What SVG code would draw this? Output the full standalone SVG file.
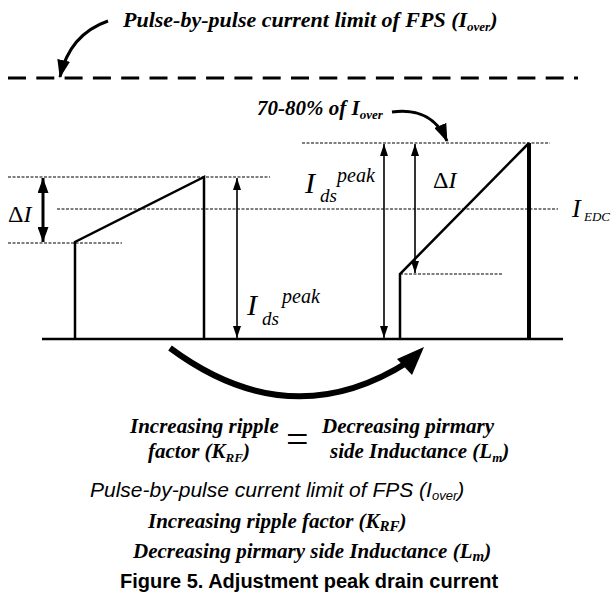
<svg xmlns="http://www.w3.org/2000/svg" width="614" height="600" viewBox="0 0 614 600">
<style>
.tbi{font-family:"Liberation Serif","Times New Roman",serif;font-weight:bold;font-style:italic;fill:#000}
.ti{font-family:"Liberation Serif","Times New Roman",serif;font-style:italic;fill:#000}
.tr{font-family:"Liberation Serif","Times New Roman",serif;fill:#000}
.ai{font-family:"Liberation Sans",Arial,sans-serif;font-style:italic;fill:#000}
.ab{font-family:"Liberation Sans",Arial,sans-serif;font-weight:bold;fill:#000}
.dash{stroke:#000;stroke-width:1.2;stroke-dasharray:3 1.5;fill:none}
.wave{stroke:#000;stroke-width:2.5;fill:none;stroke-linejoin:miter}
.thin{stroke:#000;stroke-width:1.6;fill:none}
.bold{stroke:#000;stroke-width:3;fill:none}
</style>
<defs>
<marker id="ah" markerUnits="userSpaceOnUse" markerWidth="12" markerHeight="8" refX="12" refY="4" orient="auto-start-reverse"><path d="M0,0 L12,4 L0,8 z" fill="#000"/></marker>
<marker id="ahb" markerUnits="userSpaceOnUse" markerWidth="15" markerHeight="11" refX="15" refY="5.5" orient="auto-start-reverse"><path d="M0,0 L15,5.5 L0,11 z" fill="#000"/></marker>
<marker id="ahc" markerUnits="userSpaceOnUse" markerWidth="18" markerHeight="13" refX="17" refY="6.5" orient="auto"><path d="M0,0 L18,6.5 L0,13 z" fill="#000"/></marker>
</defs>
<rect width="614" height="600" fill="#fff"/>

<g id="limit-line">
<line x1="8" y1="78" x2="578" y2="78" stroke="#000" stroke-width="3" stroke-dasharray="18 10.3"/>
</g>

<g id="guides">
<line class="dash" x1="8" y1="177" x2="270" y2="177"/>
<line class="dash" x1="8" y1="243" x2="122" y2="243"/>
<line class="dash" x1="57" y1="209" x2="558" y2="209"/>
<line class="dash" x1="302" y1="143" x2="550" y2="143"/>
<line class="dash" x1="400" y1="274" x2="503" y2="274"/>
</g>

<g id="ground">
<line x1="42" y1="339" x2="563" y2="339" stroke="#000" stroke-width="2.5"/>
</g>

<g id="pulse-left">
<path class="wave" d="M75,339 L75,242 L204,177 L204,339"/>
</g>

<g id="pulse-right">
<path class="wave" d="M400,339 L400,274 L529,143"/>
<line x1="529" y1="143" x2="529" y2="339" stroke="#000" stroke-width="4"/>
</g>

<g id="connectors">
<line class="bold" x1="43" y1="178" x2="43" y2="242" marker-start="url(#ahb)" marker-end="url(#ahb)"/>
<line class="thin" x1="237" y1="178" x2="237" y2="338" marker-start="url(#ah)" marker-end="url(#ah)"/>
<line class="thin" x1="384" y1="144" x2="384" y2="338" marker-start="url(#ah)" marker-end="url(#ah)"/>
<line class="thin" x1="415" y1="144" x2="415" y2="273" marker-start="url(#ah)" marker-end="url(#ah)"/>
<path class="bold" d="M108,21 C82,30 66,50 60,77" marker-end="url(#ahc)"/>
<path class="bold" d="M392,112 C420,108 438,120 447,141" marker-end="url(#ahc)"/>
<path d="M170,348 Q290,437 408,362" stroke="#000" stroke-width="6" fill="none"/>
<polygon points="424,347 397,359 412,375" fill="#000"/>
</g>

<g id="labels">
<text class="tbi" x="123" y="27" font-size="22">Pulse-by-pulse current limit of FPS (I<tspan font-size="13" dy="4">over</tspan><tspan dy="-4">)</tspan></text>
<text class="tbi" x="257" y="115" font-size="21">70-80% of I<tspan font-size="13" dy="4">over</tspan></text>
<text x="8" y="222" font-size="24"><tspan class="tr">Δ</tspan><tspan class="ti">I</tspan></text>
<text x="433" y="188" font-size="24"><tspan class="tr">Δ</tspan><tspan class="ti">I</tspan></text>
<text class="ti" x="247" y="315" font-size="30">I</text>
<text class="ti" x="262" y="325" font-size="19">ds</text>
<text class="ti" x="282" y="303" font-size="20">peak</text>
<text class="ti" x="305" y="193" font-size="30">I</text>
<text class="ti" x="320" y="202" font-size="19">ds</text>
<text class="ti" x="337" y="182" font-size="20">peak</text>
<text class="ti" x="572" y="217" font-size="26">I</text>
<text class="ti" x="584" y="221" font-size="13">EDC</text>

<text class="tbi" x="130" y="433" font-size="21">Increasing ripple</text>
<text class="tbi" x="148" y="458" font-size="21">factor (K<tspan font-size="13" dy="4">RF</tspan><tspan dy="-4">)</tspan></text>
<text class="tr" x="286" y="453" font-size="40">=</text>
<text class="tbi" x="322" y="433" font-size="21">Decreasing pirmary</text>
<text class="tbi" x="330" y="458" font-size="21">side Inductance (L<tspan font-size="13" dy="4">m</tspan><tspan dy="-4">)</tspan></text>

<text class="ai" x="90" y="497" font-size="21">Pulse-by-pulse current limit of FPS (I<tspan font-size="13" dy="3">over</tspan><tspan dy="-3">)</tspan></text>
<text class="tbi" x="148" y="528" font-size="21">Increasing ripple factor (K<tspan font-size="15" dy="3">RF</tspan><tspan dy="-3">)</tspan></text>
<text class="tbi" x="133" y="558" font-size="21">Decreasing pirmary side Inductance (L<tspan font-size="15" dy="3">m</tspan><tspan dy="-3">)</tspan></text>
<text class="ab" x="120" y="588" font-size="20">Figure 5. Adjustment peak drain current</text>
</g>
</svg>
